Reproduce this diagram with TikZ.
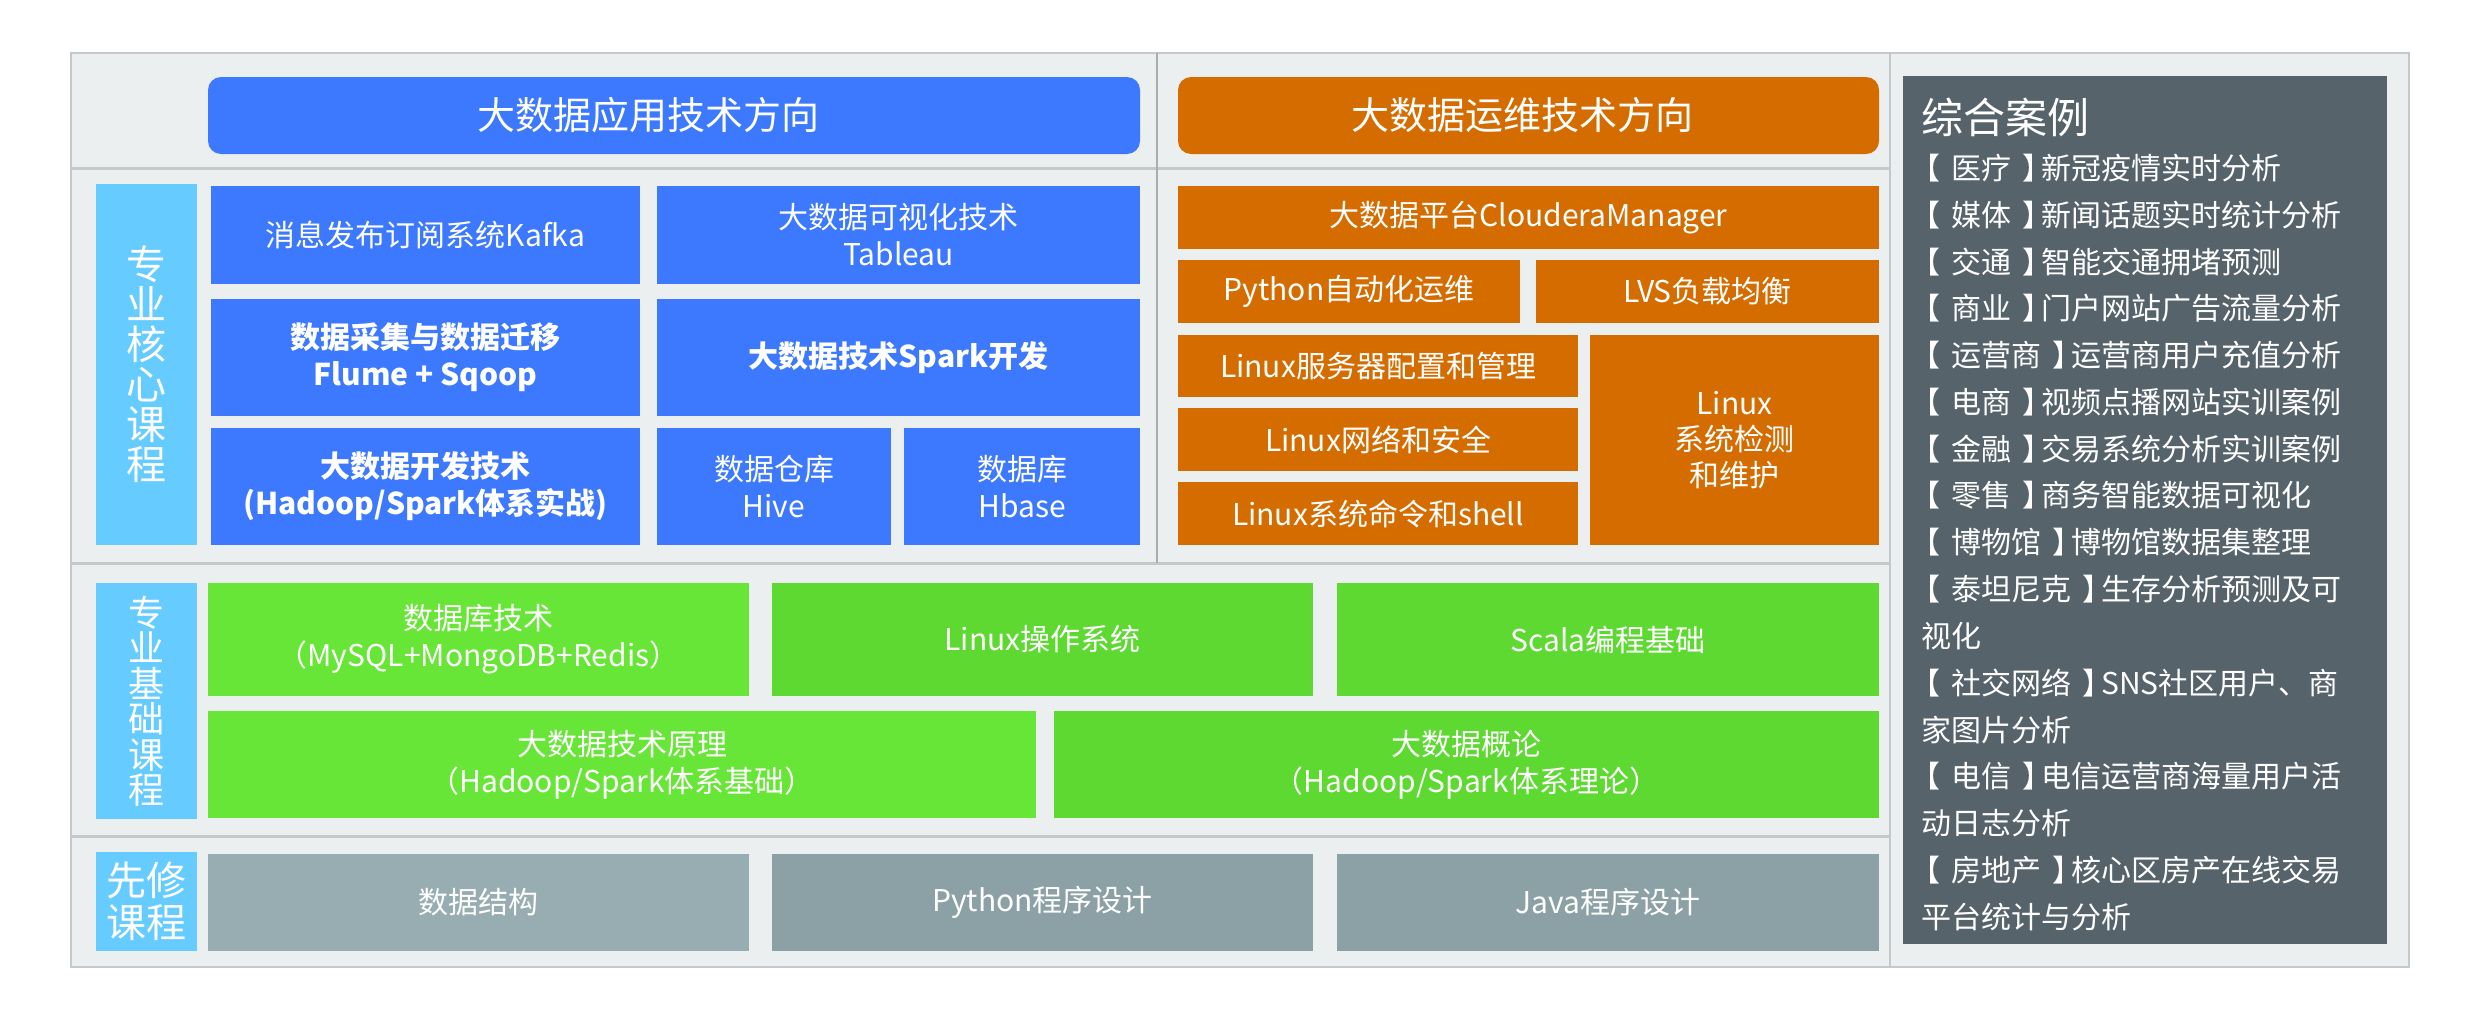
\documentclass[tikz,border=0pt]{standalone}
\usepackage{fontspec}
\setmainfont{Noto Sans CJK SC}
\definecolor{bgc}{HTML}{ECEFF0}
\definecolor{linec}{HTML}{C6C9CB}
\definecolor{vlinec}{HTML}{A9ADAF}
\definecolor{bluec}{HTML}{3D79FE}
\definecolor{orgc}{HTML}{D46C00}
\definecolor{lblc}{HTML}{66CCFF}
\definecolor{grnA}{HTML}{68E637}
\definecolor{grnB}{HTML}{5DD932}
\definecolor{gryA}{HTML}{98ADB1}
\definecolor{gryB}{HTML}{8CA1A5}
\definecolor{darkc}{HTML}{56636A}
\newcommand{\mybox}[7]{\node[#6, minimum width={(#4-#2)*1pt}, minimum height={(#5-#3)*1pt}] (#1) at ({(#2+#4)/2},{(#3+#5)/2}) {#7};}
\newcommand{\lbk}{\makebox[1em][l]{\kern-0.36em【}}
\newcommand{\rbk}{\makebox[1em][l]{\kern0.36em】}}
\begin{document}
\begin{tikzpicture}[x=1pt,y=-1pt,
  cell/.style={inner sep=0pt, outer sep=0pt, draw=none, text=white, align=center, font=\fontsize{30}{37}\selectfont},
  bcell/.style={cell, fill=bluec},
  bbold/.style={bcell, font=\fontsize{30}{37}\selectfont\bfseries},
  ocell/.style={cell, fill=orgc},
  gA/.style={cell, fill=grnA},
  gB/.style={cell, fill=grnB},
  pA/.style={cell, fill=gryA},
  pB/.style={cell, fill=gryB},
  lbl/.style={cell, fill=lblc, font=\fontsize{40}{40}\selectfont},
  hdr/.style={cell, rounded corners=13pt},
  hdrtext/.style={inner sep=0pt, text=white, font=\fontsize{38}{40}\selectfont},
  casetext/.style={inner sep=0pt, anchor=west, text=white, font=\fontsize{30}{36}\selectfont},
  divline/.style={draw=linec, line width=3pt},
]
\useasboundingbox (0,0) rectangle (2480,1021);
\fill[white] (0,0) rectangle (2480,1021);
% outer panel
\draw[fill=bgc, draw=linec, line width=2pt] (71,53) rectangle (2409,967);
\draw[divline] (71,168) -- (1890,168);
\draw[divline] (71,563) -- (1890,563);
\draw[divline] (71,836) -- (1890,836);
\draw[draw=vlinec, line width=1.5pt] (1157,53) -- (1157,563);
\draw[draw=linec, line width=2pt] (1890,53) -- (1890,967);
% headers
\mybox{h1}{208}{77}{1140}{154}{hdr, fill=bluec}{}
\node[hdrtext] (h1t) at (648,115) {大数据应用技术方向};
\mybox{h2}{1178}{77}{1879}{154}{hdr, fill=orgc}{}
\node[hdrtext] (h2t) at (1522,115) {大数据运维技术方向};
% labels
\mybox{L1}{96}{184}{197}{545}{lbl}{专\\业\\核\\心\\课\\程}
\mybox{L2}{96}{583}{197}{819}{lbl, font=\fontsize{36}{35.5}\selectfont}{专\\业\\基\\础\\课\\程}
\mybox{L3}{96}{852}{197}{951}{lbl, font=\fontsize{40}{42}\selectfont}{先修\\课程}
% blue
\mybox{k1}{211}{186}{640}{284}{bcell}{消息发布订阅系统Kafka}
\mybox{k2}{657}{186}{1140}{284}{bcell}{大数据可视化技术\\Tableau}
\mybox{k3}{211}{299}{640}{416}{bbold}{数据采集与数据迁移\\Flume + Sqoop}
\mybox{k4}{657}{299}{1140}{416}{bbold}{大数据技术Spark开发}
\mybox{k5}{211}{428}{640}{545}{bbold}{大数据开发技术\\(Hadoop/Spark体系实战)}
\mybox{k6}{657}{428}{891}{545}{bcell}{数据仓库\\Hive}
\mybox{k7}{904}{428}{1140}{545}{bcell}{数据库\\Hbase}
% orange
\mybox{o1}{1178}{186}{1879}{249}{ocell}{大数据平台ClouderaManager}
\mybox{o2}{1178}{260}{1520}{323}{ocell}{Python自动化运维}
\mybox{o3}{1536}{260}{1879}{323}{ocell}{LVS负载均衡}
\mybox{o4}{1178}{335}{1578}{397}{ocell}{Linux服务器配置和管理}
\mybox{o5}{1178}{408}{1578}{471}{ocell}{Linux网络和安全}
\mybox{o6}{1178}{482}{1578}{545}{ocell}{Linux系统命令和shell}
\mybox{o7}{1590}{335}{1879}{545}{ocell, font=\fontsize{30}{36}\selectfont}{Linux\\系统检测\\和维护}
% green
\mybox{g1}{208}{583}{749}{696}{gA}{数据库技术\\（MySQL+MongoDB+Redis）}
\mybox{g2}{772}{583}{1313}{696}{gB}{Linux操作系统}
\mybox{g3}{1337}{583}{1879}{696}{gB}{Scala编程基础}
\mybox{g4}{208}{711}{1036}{818}{gA}{大数据技术原理\\（Hadoop/Spark体系基础）}
\mybox{g5}{1054}{711}{1879}{818}{gB}{大数据概论\\（Hadoop/Spark体系理论）}
% gray
\mybox{p1}{208}{854}{749}{951}{pA}{数据结构}
\mybox{p2}{772}{854}{1313}{951}{pB}{Python程序设计}
\mybox{p3}{1337}{854}{1879}{951}{pB}{Java程序设计}
% cases panel
\mybox{d}{1903}{76}{2387}{944}{cell, fill=darkc}{}
\node[casetext, font=\fontsize{42}{44}\selectfont] (ct) at (1921,117) {综合案例};
\foreach \t [count=\i] in {\lbk 医疗\rbk 新冠疫情实时分析, \lbk 媒体\rbk 新闻话题实时统计分析, \lbk 交通\rbk 智能交通拥堵预测, \lbk 商业\rbk 门户网站广告流量分析, \lbk 运营商\rbk 运营商用户充值分析, \lbk 电商\rbk 视频点播网站实训案例, \lbk 金融\rbk 交易系统分析实训案例, \lbk 零售\rbk 商务智能数据可视化, \lbk 博物馆\rbk 博物馆数据集整理, \lbk 泰坦尼克\rbk 生存分析预测及可, 视化, \lbk 社交网络\rbk SNS社区用户、商, 家图片分析, \lbk 电信\rbk 电信运营商海量用户活, 动日志分析, \lbk 房地产\rbk 核心区房产在线交易, 平台统计与分析}
  \node[casetext] (c\i) at (1921,{168+46.8*(\i-1)}) {\t};
\end{tikzpicture}
\end{document}
